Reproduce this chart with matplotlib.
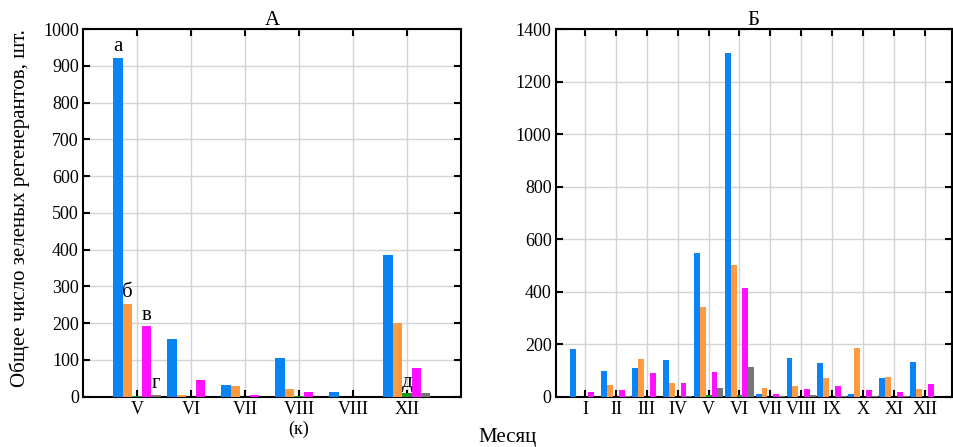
import matplotlib.pyplot as plt
import numpy as np

plt.rcParams['font.family'] = ['Liberation Serif', 'DejaVu Serif']
plt.rcParams['font.size'] = 13

# Панель А
months_a = ['V', 'VI', 'VII', 'VIII\n(к)', 'VIII', 'XII']
blue_a = [922, 157, 32, 104, 13, 385]
orange_a = [253, 5, 28, 22, 0, 200]
green_a = [1, 0, 0, 2, 0, 10]
magenta_a = [192, 45, 5, 12, 0, 77]
gray_a = [6, 0, 0, 0, 0, 10]

# Панель Б
months_b = ['I', 'II', 'III', 'IV', 'V', 'VI', 'VII', 'VIII', 'IX', 'X', 'XI', 'XII']
blue_b = [182, 99, 108, 140, 547, 1310, 11, 149, 127, 11, 71, 133]
orange_b = [0, 46, 144, 51, 342, 501, 32, 41, 71, 186, 76, 28]
green_b = [0, 0, 0, 0, 5, 5, 0, 0, 0, 0, 0, 0]
magenta_b = [17, 26, 90, 51, 93, 414, 9, 31, 41, 27, 19, 47]
gray_b = [0, 2, 0, 2, 34, 115, 2, 5, 3, 3, 3, 0]

colors = ['#0a84f5', '#ff9a40', '#1a9a1a', '#ff10ff', '#757575']


def draw_panel(ax, labels, series, width, ymax, ystep, title):
    x = np.arange(len(labels))
    bars = []
    for i, (vals, c) in enumerate(zip(series, colors)):
        b = ax.bar(x + (i - 2) * width, vals, width, color=c, zorder=3)
        bars.append(b)
    ax.set_xticks(x)
    ax.set_xticklabels(labels)
    ax.set_xlim(-1, len(labels))
    ax.set_ylim(0, ymax)
    ax.set_yticks(np.arange(0, ymax + 1, ystep))
    ax.grid(True, color='#d4d4d4', linewidth=1, zorder=0)
    ax.tick_params(direction='in', top=True, right=True, length=5, width=1.5,
                   labelsize=13, pad=3)
    for s in ax.spines.values():
        s.set_linewidth(1.5)
    ax.set_title(title, fontsize=15, pad=3)
    return bars


fig = plt.figure(figsize=(9.54, 4.47), dpi=100)
ax1 = fig.add_axes([0.087, 0.1125, 0.396, 0.8225])
ax2 = fig.add_axes([0.5825, 0.1125, 0.415, 0.8225])

bars_a = draw_panel(ax1, months_a, [blue_a, orange_a, green_a, magenta_a, gray_a],
                    0.175, 1000, 100, 'А')
draw_panel(ax2, months_b, [blue_b, orange_b, green_b, magenta_b, gray_b],
           0.19, 1400, 200, 'Б')
ax2.set_xlim(-0.95, 11.87)

# буквенные подписи над столбцами
marks = [('а', 0, 0), ('б', 1, 0), ('в', 3, 0), ('г', 4, 0), ('д', 2, 5)]
for letter, s, idx in marks:
    r = bars_a[s][idx]
    ax1.annotate(letter, (r.get_x() + r.get_width() / 2, r.get_height()),
                 xytext=(0, 1), textcoords='offset points',
                 ha='center', va='bottom', fontsize=15, zorder=4)

fig.text(0.021, 0.535, 'Общее число зеленых регенерантов, шт.', rotation=90,
         ha='center', va='center', fontsize=15)
fig.text(0.532, 0.022, 'Месяц', ha='center', va='center', fontsize=15)

fig.savefig('out.png', dpi=100)
